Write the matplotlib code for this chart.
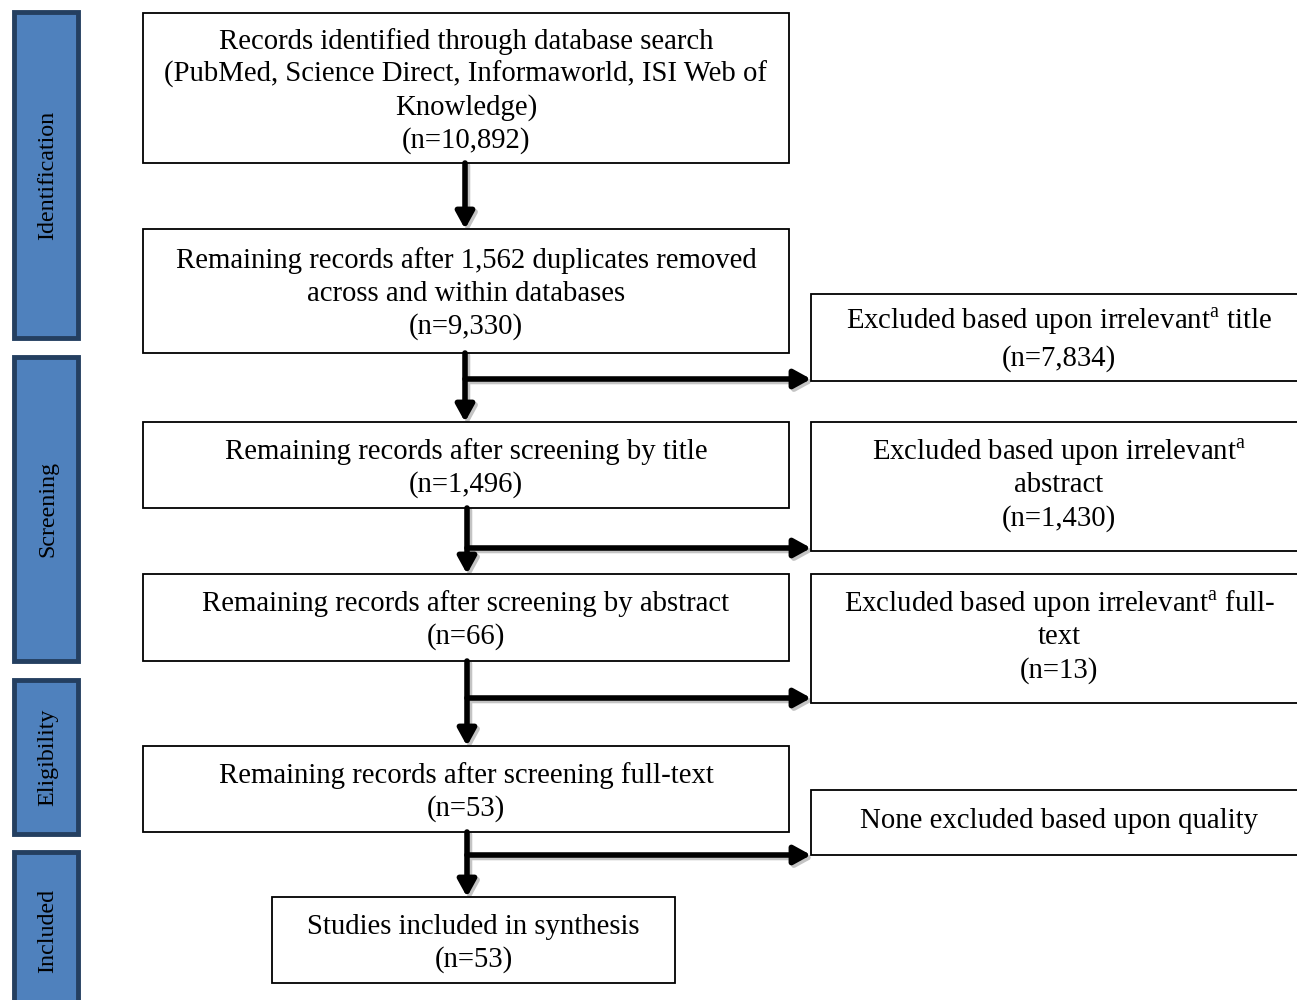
import matplotlib
matplotlib.use('Agg')
import matplotlib.pyplot as plt
from matplotlib.patches import Rectangle

plt.rcParams['font.family'] = ['Liberation Serif', 'DejaVu Serif']
plt.rcParams['mathtext.fontset'] = 'custom'
plt.rcParams['mathtext.rm'] = 'Liberation Serif'

# data
phases = ['Identification', 'Screening', 'Eligibility', 'Included']
main_labels = ['Records identified through database search\n(PubMed, Science Direct, Informaworld, ISI Web of\nKnowledge)',
               'Remaining records after 1,562 duplicates removed\nacross and within databases',
               'Remaining records after screening by title',
               'Remaining records after screening by abstract',
               'Remaining records after screening full-text',
               'Studies included in synthesis']
main_n = [10892, 9330, 1496, 66, 53, 53]
excl_labels = ['Excluded based upon irrelevant$^{\\mathrm{a}}$ title',
               'Excluded based upon irrelevant$^{\\mathrm{a}}$\nabstract',
               'Excluded based upon irrelevant$^{\\mathrm{a}}$ full-\ntext',
               'None excluded based upon quality']
excl_n = [7834, 1430, 13, None]

# layout (pixels)
phase_y = [(12, 338), (357, 661), (680, 834), (852, 1010)]
main_box = [(143, 789, 13, 163), (143, 789, 229, 353), (143, 789, 422, 508),
            (143, 789, 574, 661), (143, 789, 746, 832), (272, 675, 897, 983)]
excl_box = [(811, 1310, 294, 381), (811, 1310, 422, 551),
            (811, 1310, 574, 703), (811, 1310, 790, 855)]
excl_dy = [2.5, -1, -1, -1]
excl_lh = [38, 33, 33, 33]
arrow_x = [465, 465, 467, 467, 467]
arrow_h = [None, 379, 548, 698, 855]

fig = plt.figure(figsize=(12.97, 10), dpi=100)
ax = fig.add_axes([0, 0, 1, 1])
ax.set_xlim(0, 1297)
ax.set_ylim(1000, 0)
ax.axis('off')

fs = 20.7

for name, (y0, y1) in zip(phases, phase_y):
    ax.add_patch(Rectangle((14, y0), 64, y1 - y0, facecolor='#4f81bd',
                           edgecolor='#243f60', lw=3.5))
    ax.text(48, (y0 + y1) / 2, name, rotation=90, ha='center', va='center',
            fontsize=17.3)


def draw_box(b, lines, dy=3, lh=33):
    x0, x1, y0, y1 = b
    ax.add_patch(Rectangle((x0, y0), x1 - x0, y1 - y0, facecolor='white',
                           edgecolor='black', lw=1.3, zorder=2))
    cy = (y0 + y1) / 2 + dy
    n = len(lines)
    for i, s in enumerate(lines):
        y = cy + (i - (n - 1) / 2) * lh
        ax.text((x0 + min(x1, 1307)) / 2, y, s, ha='center', va='center',
                fontsize=fs, zorder=3)


for b, lab, n in zip(main_box, main_labels, main_n):
    draw_box(b, lab.split('\n') + ['(n=%s)' % format(n, ',')])

for b, lab, n, dy, lh in zip(excl_box, excl_labels, excl_n, excl_dy, excl_lh):
    lines = lab.split('\n')
    if n is not None:
        lines.append('(n=%s)' % format(n, ','))
    draw_box(b, lines, dy, lh)


def arrow(x0, y0, x1, y1):
    for off, col, z in [(2.5, '#c4c4c4', 1), (0, 'black', 4)]:
        ax.annotate('', xy=(x1 + off, y1 + off), xytext=(x0 + off, y0 + off),
                    arrowprops=dict(arrowstyle='-|>,head_length=1.0,head_width=0.55',
                                    lw=4, color=col, shrinkA=0, shrinkB=0),
                    zorder=z)


for i in range(5):
    x = arrow_x[i]
    top = main_box[i][3]
    bot = main_box[i + 1][2]
    arrow(x, top, x, bot)
    if arrow_h[i] is not None:
        arrow(x, arrow_h[i], 811, arrow_h[i])

fig.savefig('out.png', dpi=100)
